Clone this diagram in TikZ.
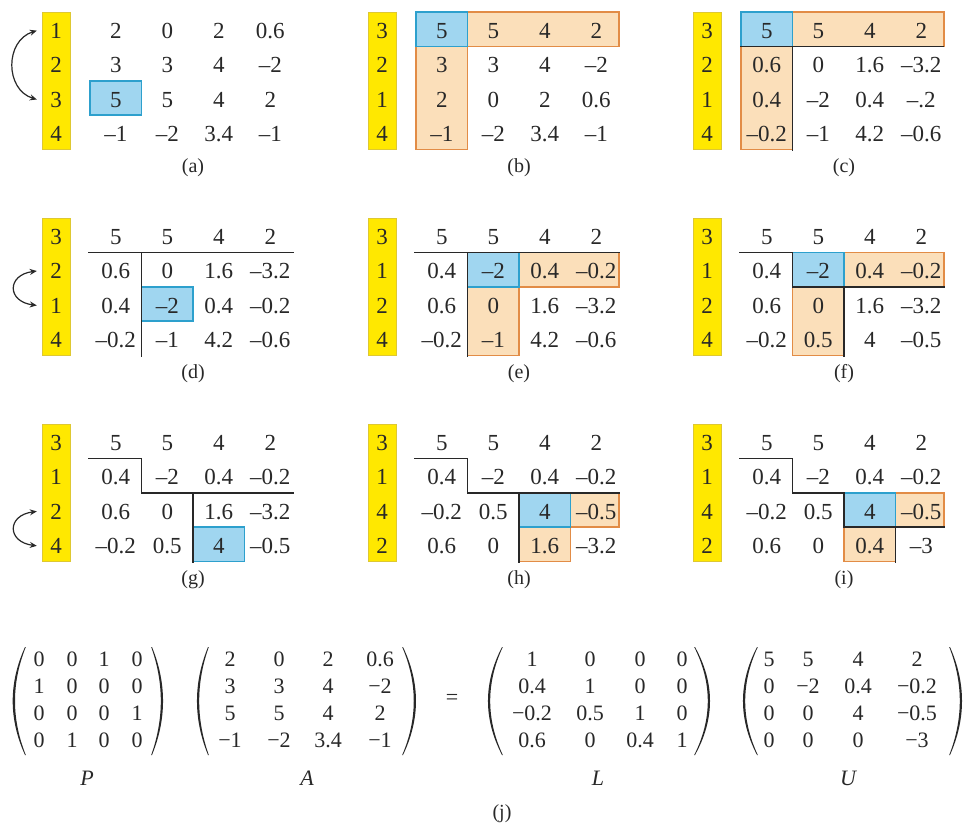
\documentclass[tikz,border=0pt]{standalone}
\usepackage{fontspec}
\setmainfont{Liberation Serif}
\usetikzlibrary{arrows.meta}
\definecolor{txt}{RGB}{40,40,40}
\definecolor{ylw}{RGB}{255,232,0}
\definecolor{ylwb}{RGB}{222,200,50}
\definecolor{bluef}{RGB}{160,214,240}
\definecolor{blueb}{RGB}{45,160,205}
\definecolor{orf}{RGB}{251,223,186}
\definecolor{orb}{RGB}{226,140,70}
\tikzset{
 cell/.style={anchor=base, inner sep=0pt, text=txt, font=\fontsize{23}{27}\selectfont},
 rowlab/.style={cell, minimum width=28pt, minimum height=30pt},
 caption/.style={inner sep=0pt, text=txt, font=\fontsize{20}{24}\selectfont},
 yband/.style={fill=ylw, draw=ylwb, line width=0.8pt},
 pivot/.style={fill=bluef, draw=blueb, line width=1.2pt},
 elim/.style={fill=orf, draw=orb, line width=1.2pt},
 rulel/.style={draw=txt, line width=1.6pt},
 swaparrow/.style={draw=txt, line width=1.2pt, {Stealth[length=7pt,width=6pt]}-{Stealth[length=7pt,width=6pt]}},
 mat/.style={anchor=base, inner sep=0pt, text=txt, font=\fontsize{22}{26}\selectfont},
}
\newcommand\panelgrid[7]{%
 \begin{scope}[shift={(#2,#3)}]
  \draw[yband] (42,12) rectangle (70,149.5);
  #6
  \foreach \lab [count=\rr] in {#4} {\node[rowlab] (#1l\rr) at (56,{38.2+34.4*(\rr-1)}) {\lab};}
  \foreach \row [count=\rr] in {#5} {\foreach \v [count=\cc] in \row {\node[cell] (#1-\rr-\cc) at ({115.75+51.5*(\cc-1)},{38.2+34.4*(\rr-1)}) {\v};}}
  \node[caption] (#1cap) at (193,168) {#7};
 \end{scope}}
\newcommand\matgrid[3]{%
 \foreach \row [count=\rr] in {#3} {\foreach \v [count=\cc] in \row {\pgfmathsetmacro\xx{{#2}[\cc-1]}\node[mat] (#1-\rr-\cc) at (\xx,{666.5+27*(\rr-1)}) {\v};}}}
\newcommand\bigparen[4]{%
 \fill[txt] (#1,647) .. controls (#2,683) and (#2,719) .. (#1,755) -- (#3,755) .. controls (#4,719) and (#4,683) .. (#3,647) -- cycle;}
\begin{document}
\begin{tikzpicture}[x=1pt,y=-1pt]
\useasboundingbox (0,0) rectangle (963,825);
\fill[white] (0,0) rectangle (963,825);
% (a)
\panelgrid{a}{0}{0}{1,2,3,4}{{2,0,2,0.6},{3,3,4,–2},{5,5,4,2},{–1,–2,3.4,–1}}{%
  \draw[pivot] (90,81) rectangle (141.5,115);}{(a)}
\draw[swaparrow] ([xshift=-5pt]al1.west) .. controls +(-32,10) and +(-32,-10) .. ([xshift=-5pt]al3.west);
% (b)
\panelgrid{b}{326}{0}{3,2,1,4}{{5,5,4,2},{3,3,4,–2},{2,0,2,0.6},{–1,–2,3.4,–1}}{%
  \draw[elim] (141.5,12) rectangle (293,46.5);
  \draw[elim] (90,46.5) rectangle (141.5,149.5);
  \draw[pivot] (90,12) rectangle (141.5,46.5);}{(b)}
% (c)
\panelgrid{c}{651}{0}{3,2,1,4}{{5,5,4,2},{0.6,0,1.6,–3.2},{0.4,–2,0.4,–.2},{–0.2,–1,4.2,–0.6}}{%
  \draw[elim] (141.5,12) rectangle (293,46.5);
  \draw[elim] (90,46.5) rectangle (141.5,149.5);
  \draw[pivot] (90,12) rectangle (141.5,46.5);
  \draw[rulel] (89,46.5) -- (293,46.5);
  \draw[rulel] (141.5,46.5) -- (141.5,151);}{(c)}
% (d)
\panelgrid{d}{0}{206}{3,2,1,4}{{5,5,4,2},{0.6,0,1.6,–3.2},{0.4,–2,0.4,–0.2},{–0.2,–1,4.2,–0.6}}{%
  \draw[pivot] (141.5,81) rectangle (193,115);
  \draw[rulel] (88,46.5) -- (294,46.5);
  \draw[rulel] (141.5,46.5) -- (141.5,151);}{(d)}
\draw[swaparrow] ([xshift=-5pt]dl2.west) .. controls +(-30,4) and +(-30,-4) .. ([xshift=-5pt]dl3.west);
% (e)
\panelgrid{e}{326}{206}{3,1,2,4}{{5,5,4,2},{0.4,–2,0.4,–0.2},{0.6,0,1.6,–3.2},{–0.2,–1,4.2,–0.6}}{%
  \draw[elim] (193,46.5) rectangle (293,81);
  \draw[elim] (141.5,81) rectangle (193,149.5);
  \draw[pivot] (141.5,46.5) rectangle (193,81);
  \draw[rulel] (88,46.5) -- (294,46.5);
  \draw[rulel] (141.5,46.5) -- (141.5,151);}{(e)}
% (f)
\panelgrid{f}{651}{206}{3,1,2,4}{{5,5,4,2},{0.4,–2,0.4,–0.2},{0.6,0,1.6,–3.2},{–0.2,0.5,4,–0.5}}{%
  \draw[elim] (193,46.5) rectangle (293,81);
  \draw[elim] (141.5,81) rectangle (193,149.5);
  \draw[pivot] (141.5,46.5) rectangle (193,81);
  \draw[rulel] (88,46.5) -- (141.5,46.5) -- (141.5,81) -- (294,81);
  \draw[rulel] (193,81) -- (193,151);}{(f)}
% (g)
\panelgrid{g}{0}{412}{3,1,2,4}{{5,5,4,2},{0.4,–2,0.4,–0.2},{0.6,0,1.6,–3.2},{–0.2,0.5,4,–0.5}}{%
  \draw[pivot] (193,115) rectangle (244.5,149.5);
  \draw[rulel] (88,46.5) -- (141.5,46.5) -- (141.5,81) -- (294,81);
  \draw[rulel] (193,81) -- (193,151);}{(g)}
\draw[swaparrow] ([xshift=-5pt]gl3.west) .. controls +(-30,4) and +(-30,-4) .. ([xshift=-5pt]gl4.west);
% (h)
\panelgrid{h}{326}{412}{3,1,4,2}{{5,5,4,2},{0.4,–2,0.4,–0.2},{–0.2,0.5,4,–0.5},{0.6,0,1.6,–3.2}}{%
  \draw[elim] (244.5,81) rectangle (293,115);
  \draw[elim] (193,115) rectangle (244.5,149.5);
  \draw[pivot] (193,81) rectangle (244.5,115);
  \draw[rulel] (88,46.5) -- (141.5,46.5) -- (141.5,81) -- (294,81);
  \draw[rulel] (193,81) -- (193,151);}{(h)}
% (i)
\panelgrid{i}{651}{412}{3,1,4,2}{{5,5,4,2},{0.4,–2,0.4,–0.2},{–0.2,0.5,4,–0.5},{0.6,0,0.4,–3}}{%
  \draw[elim] (244.5,81) rectangle (293,115);
  \draw[elim] (193,115) rectangle (244.5,149.5);
  \draw[pivot] (193,81) rectangle (244.5,115);
  \draw[rulel] (88,46.5) -- (141.5,46.5) -- (141.5,81) -- (193,81) -- (193,115) -- (294,115);
  \draw[rulel] (244.5,115) -- (244.5,151);}{(i)}
% (j)
\matgrid{P}{39,72,104,137}{{0,0,1,0},{1,0,0,0},{0,0,0,1},{0,1,0,0}}
\matgrid{A}{230,279,328,380}{{2,0,2,0.6},{3,3,4,−2},{5,5,4,2},{−1,−2,3.4,−1}}
\matgrid{L}{532,590,640,682}{{1,0,0,0},{0.4,1,0,0},{−0.2,0.5,1,0},{0.6,0,0.4,1}}
\matgrid{U}{769,808,858,917}{{5,5,4,2},{0,−2,0.4,−0.2},{0,0,4,−0.5},{0,0,0,−3}}
\bigparen{25}{8.6}{25.8}{11.4}
\bigparen{152}{166.7}{151.2}{164}
\bigparen{208}{193.3}{208.8}{196}
\bigparen{403}{420.3}{402.2}{417.6}
\bigparen{502}{483.3}{502.8}{486}
\bigparen{695}{715}{694.2}{712.3}
\bigparen{757}{738.3}{757.8}{741}
\bigparen{950}{966}{949.2}{963.3}
\node[mat] (eq) at (452,704.7) {=};
\node[mat] (Plab) at (87,785) {\itshape P};
\node[mat] (Alab) at (307,785) {\itshape A};
\node[mat] (Llab) at (598,785) {\itshape L};
\node[mat] (Ulab) at (848,785) {\itshape U};
\node[caption] (jcap) at (502,814) {(j)};
\end{tikzpicture}
\end{document}
